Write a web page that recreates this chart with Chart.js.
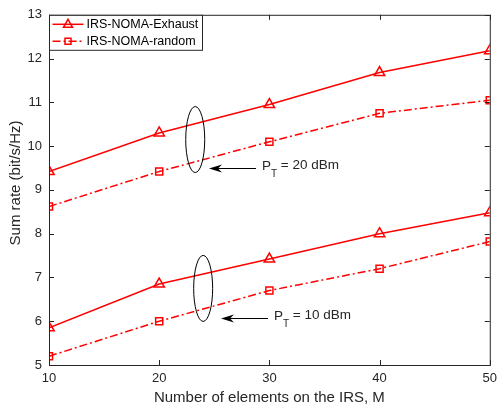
<html>
  <head>
    <title>Sum rate vs M</title>
    <script src="https://cdn.jsdelivr.net/npm/chart.js@4.4.0/dist/chart.umd.min.js"></script>
    <style>
      body { margin: 0; background: #fff; }
      #wrap { width: 503px; height: 407px; }
    </style>
  </head>
  <body>
    <div id="wrap"><canvas id="chart" width="503" height="407"></canvas></div>
  </body>
  <script>
    // values
    var elements = [10, 20, 30, 40, 50];
    var xTicks = [10, 20, 30, 40, 50];
    var yTicks = [5, 6, 7, 8, 9, 10, 11, 12, 13];
    var exhaust20 = [9.42, 10.3, 10.95, 11.68, 12.18];
    var random20 = [8.62, 9.42, 10.1, 10.75, 11.05];
    var exhaust10 = [5.85, 6.85, 7.42, 8.0, 8.48];
    var random10 = [5.2, 6.0, 6.7, 7.2, 7.82];
    var legendLabels = ['IRS-NOMA-Exhaust', 'IRS-NOMA-random'];
    var yTitle = 'Sum rate (bit/s/Hz)';

    var red = '#ff0000';
    var dashDot = [8, 3, 2, 3];
    var font = '"Liberation Sans", Arial, sans-serif';

    function pts(ys) {
      var out = [];
      for (var i = 0; i < elements.length; i++) {
        out.push({ x: elements[i], y: ys[i] });
      }
      return out;
    }

    function series(label, ys, dashed) {
      return {
        label: label,
        data: pts(ys),
        borderColor: red,
        borderWidth: 1.5,
        borderDash: dashed ? dashDot : [],
        pointStyle: dashed ? 'rect' : 'triangle',
        pointRadius: dashed ? 5 : 6,
        pointBorderWidth: 1.5,
        pointBorderColor: red,
        pointBackgroundColor: 'rgba(0,0,0,0)',
        fill: false,
        tension: 0
      };
    }

    // box, inward ticks, y title, legend and the two P_T notes
    var decor = {
      id: 'decor',
      afterDraw: function (chart) {
        var ctx = chart.ctx;
        var a = chart.chartArea;
        var xs = chart.scales.x, ys = chart.scales.y;
        ctx.save();
        ctx.strokeStyle = '#262626';
        ctx.lineWidth = 1;
        ctx.strokeRect(a.left + 0.5, a.top + 0.5, a.right - a.left, a.bottom - a.top);
        ctx.beginPath();
        xTicks.forEach(function (v) {
          var px = Math.round(xs.getPixelForValue(v)) + 0.5;
          ctx.moveTo(px, a.bottom); ctx.lineTo(px, a.bottom - 5);
          ctx.moveTo(px, a.top); ctx.lineTo(px, a.top + 5);
        });
        yTicks.forEach(function (v) {
          var py = Math.round(ys.getPixelForValue(v)) + 0.5;
          ctx.moveTo(a.left, py); ctx.lineTo(a.left + 5, py);
          ctx.moveTo(a.right, py); ctx.lineTo(a.right - 5, py);
        });
        ctx.stroke();

        // y axis title (sits a little above the axis middle, as in the figure)
        ctx.save();
        ctx.translate(16, (a.top + a.bottom) / 2 - 7);
        ctx.rotate(-Math.PI / 2);
        ctx.font = '15px ' + font;
        ctx.fillStyle = '#262626';
        ctx.textAlign = 'center';
        ctx.textBaseline = 'middle';
        ctx.fillText(yTitle, 0, 0);
        ctx.restore();

        // legend box
        var lx = a.left + 0.5, ly = a.top + 0.5, lw = 153, lh = 35;
        ctx.fillStyle = '#fff';
        ctx.fillRect(lx, ly, lw, lh);
        ctx.strokeStyle = '#262626';
        ctx.strokeRect(lx, ly, lw, lh);
        ctx.font = '12.5px ' + font;
        ctx.textBaseline = 'middle';
        for (var i = 0; i < 2; i++) {
          var cy = ly + 9 + i * 17;
          ctx.strokeStyle = red;
          ctx.lineWidth = 1.5;
          ctx.setLineDash(i ? dashDot : []);
          ctx.beginPath(); ctx.moveTo(lx + 3, cy); ctx.lineTo(lx + 34, cy); ctx.stroke();
          ctx.setLineDash([]);
          ctx.beginPath();
          if (i === 0) {
            ctx.moveTo(lx + 18.5, cy - 5); ctx.lineTo(lx + 23, cy + 3); ctx.lineTo(lx + 14, cy + 3); ctx.closePath();
          } else {
            ctx.rect(lx + 15.5, cy - 3, 6, 6);
          }
          ctx.stroke();
          ctx.fillStyle = '#000';
          ctx.fillText(legendLabels[i], lx + 37, cy + 0.5);
        }

        // P_T notes: ellipse round the pair, arrow, label
        var notes = [
          { cx: 23.27, cy: 10.15, tail: 256, ty: 9.49, tip: 209, txt: '20' },
          { cx: 23.99, cy: 6.75, tail: 268, ty: 6.07, tip: 221, txt: '10' }
        ];
        notes.forEach(function (n) {
          var ex = xs.getPixelForValue(n.cx), ey = ys.getPixelForValue(n.cy);
          ctx.strokeStyle = '#000';
          ctx.lineWidth = 1;
          ctx.beginPath();
          ctx.ellipse(ex, ey, 9.5, 33, 0, 0, Math.PI * 2);
          ctx.stroke();
          var ay = Math.round(ys.getPixelForValue(n.ty)) + 0.5;
          ctx.beginPath(); ctx.moveTo(n.tail, ay); ctx.lineTo(n.tip + 6, ay); ctx.stroke();
          ctx.fillStyle = '#000';
          ctx.beginPath();
          ctx.moveTo(n.tip, ay); ctx.lineTo(n.tip + 13, ay - 4); ctx.lineTo(n.tip + 9, ay); ctx.lineTo(n.tip + 13, ay + 4);
          ctx.closePath(); ctx.fill();
          ctx.fillStyle = '#262626';
          ctx.textBaseline = 'alphabetic';
          ctx.font = '13.5px ' + font;
          var bx = n.tail + 6, by = ay + 1;
          ctx.fillText('P', bx, by);
          var pw = ctx.measureText('P').width;
          ctx.font = '10px ' + font;
          ctx.fillText('T', bx + pw, by + 7);
          var tw = ctx.measureText('T').width;
          ctx.font = '13.5px ' + font;
          ctx.fillText(' = ' + n.txt + ' dBm', bx + pw + tw, by - 1);
        });
        ctx.restore();
      }
    };

    new Chart(document.getElementById('chart'), {
      type: 'line',
      data: {
        datasets: [
          series(legendLabels[0], exhaust20, false),
          series(legendLabels[1], random20, true),
          series(legendLabels[0], exhaust10, false),
          series(legendLabels[1], random10, true)
        ]
      },
      options: {
        responsive: false,
        animation: false,
        layout: { padding: { top: 14, right: 7, left: 0, bottom: 0 } },
        plugins: { legend: { display: false }, tooltip: { enabled: false } },
        scales: {
          x: {
            type: 'linear', min: 10, max: 50,
            afterBuildTicks: function (s) { s.ticks = xTicks.map(function (v) { return { value: v }; }); },
            afterFit: function (s) { s.height = 42; },
            grid: { display: false, drawTicks: false },
            border: { display: false },
            ticks: { color: '#262626', font: { family: font, size: 13 }, padding: 6, maxRotation: 0 },
            title: { display: true, text: 'Number of elements on the IRS, M', color: '#262626', font: { family: font, size: 15 }, padding: { top: 0, bottom: 0 } }
          },
          y: {
            min: 5, max: 13,
            afterBuildTicks: function (s) { s.ticks = yTicks.map(function (v) { return { value: v }; }); },
            afterFit: function (s) { s.width = 49; },
            grid: { display: false, drawTicks: false },
            border: { display: false },
            ticks: { color: '#262626', font: { family: font, size: 13 }, padding: 7 },
            title: { display: false }
          }
        }
      },
      plugins: [decor]
    });
  </script>
</html>
